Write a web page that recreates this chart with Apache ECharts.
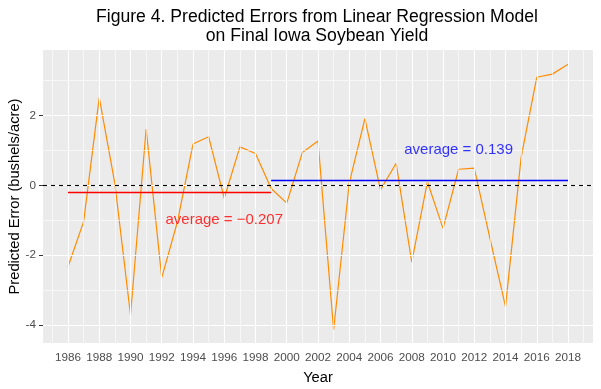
<!DOCTYPE html>
<html><head><meta charset="utf-8">
<script src="https://cdn.jsdelivr.net/npm/echarts@6/dist/echarts.min.js"></script>
<style>html,body{margin:0;padding:0;background:#fff}#c{width:601px;height:389px}</style>
</head><body><div id="c"></div>
<script>
const years = [1986,1987,1988,1989,1990,1991,1992,1993,1994,1995,1996,1997,1998,1999,2000,2001,2002,2003,2004,2005,2006,2007,2008,2009,2010,2011,2012,2013,2014,2015,2016,2017,2018];
const errors = [-2.33,-1.04,2.51,0.05,-3.71,1.61,-2.64,-1.05,1.18,1.39,-0.37,1.10,0.91,-0.09,-0.51,0.94,1.27,-4.13,0.06,1.91,-0.13,0.63,-2.20,0.10,-1.23,0.46,0.49,-1.51,-3.47,0.80,3.09,3.18,3.46];
const xTicks = [1986,1988,1990,1992,1994,1996,1998,2000,2002,2004,2006,2008,2010,2012,2014,2016,2018];
const xMinor = [1985,1987,1989,1991,1993,1995,1997,1999,2001,2003,2005,2007,2009,2011,2013,2015,2017,2019];
const yTicks = [-4,-2,0,2];
const yMinor = [-3,-1,1,3];
const avgValues = [-0.207, 0.139];
const avgStart = [1986, 1999];
const avgEnd = [1999, 2018];
const avgLabels = ['average = \u22120.207', 'average = 0.139'];
const avgLabelX = [1996, 2011];
const avgLabelY = [-1, 1];
const titleLines = ['Figure 4. Predicted Errors from Linear Regression Model', 'on Final Iowa Soybean Yield'];

const FONT = 'Liberation Sans, Arial, sans-serif';
const chart = echarts.init(document.getElementById('c'), null, {renderer: 'canvas'});

const gridLines = [];
xMinor.forEach(v => gridLines.push({xAxis: v, lineStyle: {color: '#fff', width: 0.6, type: 'solid'}}));
yMinor.forEach(v => gridLines.push({yAxis: v, lineStyle: {color: '#fff', width: 0.6, type: 'solid'}}));
xTicks.forEach(v => gridLines.push({xAxis: v, lineStyle: {color: '#fff', width: 1.1, type: 'solid'}}));
yTicks.forEach(v => gridLines.push({yAxis: v, lineStyle: {color: '#fff', width: 1.1, type: 'solid'}}));

const segColors = ['#FF0000', '#0000FF'];
const segSeries = avgValues.map((v, i) => ({
  type: 'line', z: 5, silent: true, symbol: 'none',
  data: [[avgStart[i], v], [avgEnd[i], v]],
  lineStyle: {color: segColors[i], width: 1.4}
}));

chart.setOption({
  animation: false,
  backgroundColor: '#fff',
  graphic: titleLines.map((t, i) => ({
    type: 'text', x: 317, y: 17 + i * 19,
    style: {text: t, font: '17.6px ' + FONT, fill: '#000', align: 'center', verticalAlign: 'middle'}
  })),
  grid: {left: 43, right: 8, top: 50, bottom: 46, show: true, backgroundColor: '#EBEBEB', borderWidth: 0,
         containLabel: false, outerBoundsMode: 'none'},
  xAxis: {
    type: 'value', min: 1984.4, max: 2019.6,
    splitLine: {show: false}, axisLine: {show: false},
    axisTick: {show: true, customValues: xTicks, length: 4, lineStyle: {color: '#333', width: 1}},
    axisLabel: {customValues: xTicks, formatter: v => String(v), color: '#4D4D4D', fontSize: 11.7, fontFamily: FONT, margin: 9},
    name: 'Year', nameLocation: 'middle', nameGap: 27, nameMoveOverlap: false,
    nameTextStyle: {color: '#000', fontSize: 14.7, fontFamily: FONT}
  },
  yAxis: {
    type: 'value', min: -4.51, max: 3.87,
    splitLine: {show: false}, axisLine: {show: false},
    axisTick: {show: true, customValues: yTicks, length: 4, lineStyle: {color: '#333', width: 1}},
    axisLabel: {customValues: yTicks, formatter: v => String(v), color: '#4D4D4D', fontSize: 11.7, fontFamily: FONT, margin: 7},
    name: 'Predicted Error (bushels/acre)', nameLocation: 'middle', nameRotate: 90, nameGap: 21, nameMoveOverlap: false,
    nameTextStyle: {color: '#000', fontSize: 14.7, fontFamily: FONT}
  },
  series: [
    {type: 'line', z: 1, silent: true, data: [], symbol: 'none',
     markLine: {silent: true, symbol: 'none', label: {show: false}, animation: false, data: gridLines}},
    {type: 'line', z: 3, silent: true, symbol: 'none',
     data: years.map((y, i) => [y, errors[i]]),
     lineStyle: {color: '#FF8C00', width: 1.2}},
    {type: 'line', z: 4, silent: true, data: [], symbol: 'none',
     markLine: {silent: true, symbol: 'none', label: {show: false}, animation: false,
       data: [{yAxis: 0, lineStyle: {color: '#000', width: 1.1, type: [4, 4]}}]}},
    ...segSeries,
    {type: 'scatter', z: 6, silent: true, symbolSize: 0,
     data: avgLabels.map((t, i) => ({value: [avgLabelX[i], avgLabelY[i]],
       label: {show: true, position: 'inside', formatter: t, color: segColors[i], fontSize: 15, fontFamily: FONT}}))}
  ]
});
</script></body></html>
